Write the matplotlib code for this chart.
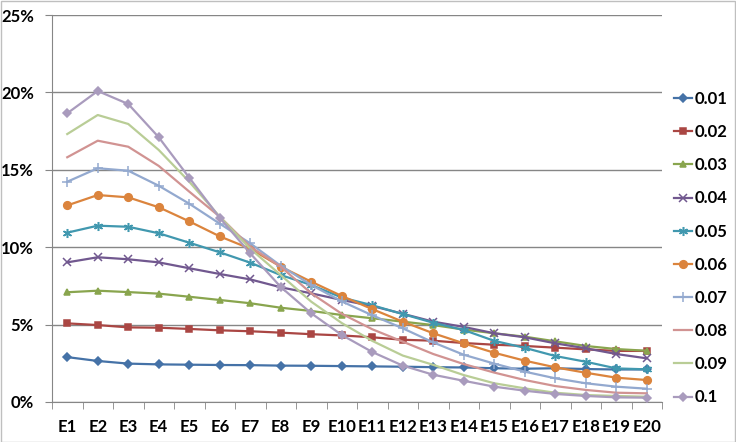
import matplotlib
matplotlib.use("Agg")
import matplotlib.pyplot as plt
from matplotlib.ticker import FixedLocator, PercentFormatter
from matplotlib.patches import Rectangle

categories = ["E%d" % i for i in range(1, 21)]
series_names = ["0.01", "0.02", "0.03", "0.04", "0.05", "0.06", "0.07", "0.08", "0.09", "0.1"]

s001 = [2.90, 2.65, 2.48, 2.43, 2.41, 2.39, 2.38, 2.35, 2.34, 2.32, 2.30, 2.28, 2.25, 2.23, 2.18, 2.15, 2.18, 2.13, 2.10, 2.10]
s002 = [5.08, 4.97, 4.82, 4.80, 4.72, 4.63, 4.57, 4.48, 4.38, 4.30, 4.18, 4.02, 3.96, 3.81, 3.70, 3.62, 3.51, 3.40, 3.30, 3.30]
s003 = [7.09, 7.19, 7.10, 7.00, 6.80, 6.59, 6.38, 6.09, 5.88, 5.62, 5.41, 5.19, 4.97, 4.68, 4.44, 4.22, 3.92, 3.62, 3.42, 3.31]
s004 = [9.02, 9.35, 9.22, 9.02, 8.64, 8.27, 7.92, 7.41, 7.02, 6.59, 6.20, 5.70, 5.19, 4.85, 4.44, 4.18, 3.79, 3.47, 3.10, 2.82]
s005 = [10.94, 11.39, 11.32, 10.90, 10.29, 9.67, 9.00, 8.20, 7.56, 6.75, 6.25, 5.68, 5.12, 4.65, 3.95, 3.50, 2.97, 2.60, 2.17, 2.11]
s006 = [12.70, 13.37, 13.22, 12.58, 11.67, 10.70, 9.90, 8.74, 7.77, 6.85, 6.00, 5.19, 4.44, 3.79, 3.18, 2.67, 2.24, 1.89, 1.57, 1.42]
s007 = [14.23, 15.10, 14.94, 13.97, 12.81, 11.52, 10.25, 8.80, 7.56, 6.50, 5.60, 4.76, 3.85, 3.05, 2.48, 1.96, 1.53, 1.21, 0.99, 0.86]
s008 = [15.81, 16.88, 16.49, 15.25, 13.59, 11.97, 10.03, 8.74, 7.02, 5.70, 4.70, 3.90, 3.10, 2.45, 1.90, 1.42, 1.03, 0.78, 0.60, 0.56]
s009 = [17.31, 18.54, 17.96, 16.28, 14.23, 11.97, 9.90, 8.20, 6.48, 5.10, 3.95, 3.00, 2.40, 1.74, 1.21, 0.88, 0.60, 0.45, 0.39, 0.34]
s010 = [18.65, 20.09, 19.25, 17.10, 14.49, 11.90, 9.60, 7.43, 5.73, 4.33, 3.23, 2.35, 1.76, 1.37, 0.99, 0.73, 0.52, 0.39, 0.30, 0.28]
all_series = [s001, s002, s003, s004, s005, s006, s007, s008, s009, s010]

colors = ["#4572A7", "#AA4643", "#89A54E", "#71588F", "#4198AF",
          "#DB843D", "#93A9CF", "#D19392", "#B9CD96", "#A99BBD"]
markers = ["D", "s", "^", "x", (6, 2, 0), "o", "+", None, None, "D"]
msizes = [4, 5, 5, 5.5, 6.5, 5.5, 6.5, 0, 0, 4.5]

plt.rcParams["font.family"] = ["Lato", "DejaVu Sans"]
plt.rcParams["font.weight"] = "bold"

fig = plt.figure(figsize=(7.36, 4.42), dpi=100)
fig.patches.append(Rectangle((0.001, 0.001), 0.997, 0.997, transform=fig.transFigure,
                             fill=False, edgecolor="#BFBFBF", linewidth=1))
ax = fig.add_axes([52 / 736, 1 - 402 / 442, 610 / 736, 387 / 442])

x = list(range(len(categories)))
for name, vals, c, m, ms in zip(series_names, all_series, colors, markers, msizes):
    ax.plot(x, vals, color=c, linewidth=1.6, marker=m, markersize=ms,
            markeredgewidth=1.1, label=name, zorder=3)

ax.set_xlim(-0.5, len(categories) - 0.5)
ax.set_ylim(0, 25)
ax.yaxis.set_major_locator(FixedLocator([0, 5, 10, 15, 20, 25]))
ax.yaxis.set_major_formatter(PercentFormatter(decimals=0))
ax.set_xticks(x)
ax.set_xticklabels(categories)
ax.set_xticks([i - 0.5 for i in range(len(categories) + 1)], minor=True)
ax.tick_params(axis="x", which="major", length=0, pad=12, labelsize=12)
ax.tick_params(axis="x", which="minor", length=5, color="#868686", direction="out")
ax.tick_params(axis="y", length=5, color="#868686", direction="out", pad=8, labelsize=12)

ax.grid(axis="y", color="#868686", linewidth=1)
ax.set_axisbelow(True)
for side in ["top", "right"]:
    ax.spines[side].set_visible(False)
for side in ["left", "bottom"]:
    ax.spines[side].set_color("#868686")

leg = ax.legend(loc="upper left", bbox_to_anchor=(674 / 736, 1 - 91 / 442),
                bbox_transform=fig.transFigure, frameon=False,
                fontsize=12, handlelength=1.1, handletextpad=0.15,
                labelspacing=1.03, borderaxespad=0, borderpad=0)

fig.savefig("out.png", dpi=100)
